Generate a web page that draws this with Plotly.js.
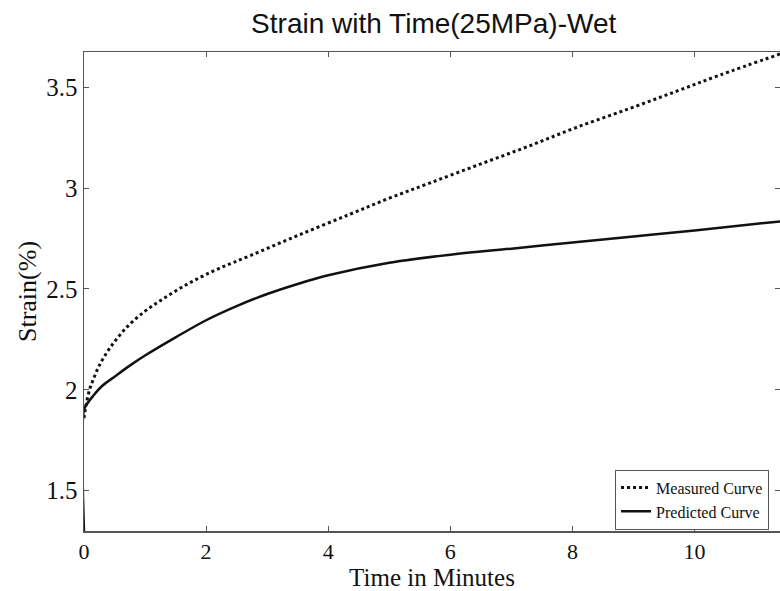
<!DOCTYPE html>
<html>
<head>
<meta charset="utf-8">
<script src="https://cdn.plot.ly/plotly-3.0.1.min.js"></script>
<style>html,body{margin:0;padding:0;background:#fff;}#chart{width:780px;height:591px;}</style>
</head>
<body>
<div id="chart"></div>
<script>
const measuredTime = [0, 0.02, 0.05, 0.1, 0.15, 0.25, 0.43, 0.7, 1.0, 1.24, 1.5, 1.79, 2.2, 2.72, 3.5, 4.35, 5.0, 5.66, 6.5, 7.3, 8.1, 8.94, 9.7, 10.41, 11.4];
const measuredStrain = [1.86, 1.90, 1.95, 2.01, 2.05, 2.12, 2.21, 2.31, 2.39, 2.44, 2.49, 2.54, 2.60, 2.665, 2.765, 2.87, 2.95, 3.025, 3.12, 3.21, 3.305, 3.395, 3.48, 3.56, 3.665];
const predictedTime = [0, 0, 0.05, 0.15, 0.3, 0.5, 0.75, 1.0, 1.5, 2.0, 2.5, 3.0, 3.5, 4.0, 5.0, 6.0, 7.0, 8.0, 9.0, 10.0, 11.4];
const predictedStrain = [1.3, 1.9, 1.93, 1.97, 2.02, 2.065, 2.12, 2.17, 2.26, 2.345, 2.415, 2.475, 2.525, 2.568, 2.63, 2.67, 2.70, 2.73, 2.76, 2.79, 2.835];
const xTicks = [0, 2, 4, 6, 8, 10];
const yTicks = [1.5, 2, 2.5, 3, 3.5];
const yTickText = ['1.5', '2', '2.5', '3', '3.5'];

const traces = [
  {x: measuredTime, y: measuredStrain, name: 'Measured Curve', mode: 'lines',
   line: {color: '#111', width: 3, dash: 'dot', shape: 'spline', smoothing: 1}},
  {x: predictedTime, y: predictedStrain, name: 'Predicted Curve', mode: 'lines',
   line: {color: '#111', width: 2.5, shape: 'spline', smoothing: 1}}
];

const serif = 'Liberation Serif, Times New Roman, serif';
const layout = {
  width: 780, height: 591,
  margin: {l: 84, r: 0, t: 52, b: 60, autoexpand: false},
  paper_bgcolor: '#fff', plot_bgcolor: '#fff',
  showlegend: true,
  title: {text: 'Strain with Time(25MPa)-Wet', x: 0.556, xref: 'container', y: 0.961, yanchor: 'middle',
          font: {family: 'Liberation Sans, Arial, sans-serif', size: 28, color: '#111'}},
  xaxis: {range: [0, 11.4], tickvals: xTicks, ticktext: xTicks.map(String),
          ticks: 'inside', ticklen: 5, tickcolor: '#555', mirror: 'ticks',
          showline: true, linecolor: '#555', linewidth: 1.5, showgrid: false, zeroline: false,
          tickfont: {family: serif, size: 22, color: '#111'},
          title: {text: 'Time in Minutes', standoff: 3, font: {family: serif, size: 25, color: '#111'}}},
  yaxis: {range: [1.3, 3.675], tickvals: yTicks, ticktext: yTickText,
          ticks: 'inside', ticklen: 5, tickcolor: '#555', mirror: 'ticks',
          showline: true, linecolor: '#555', linewidth: 1.5, showgrid: false, zeroline: false,
          tickfont: {family: serif, size: 25, color: '#111'},
          title: {text: 'Strain(%)', standoff: 2, font: {family: serif, size: 26, color: '#111'}}},
  legend: {x: 0.763, y: 0.003, xanchor: 'left', yanchor: 'bottom', bgcolor: '#fff',
           bordercolor: '#555', borderwidth: 1, tracegroupgap: 0, itemwidth: 30,
           font: {family: serif, size: 16, color: '#111'}}
};

Plotly.newPlot('chart', traces, layout, {displayModeBar: false, staticPlot: true});
</script>
</body>
</html>
